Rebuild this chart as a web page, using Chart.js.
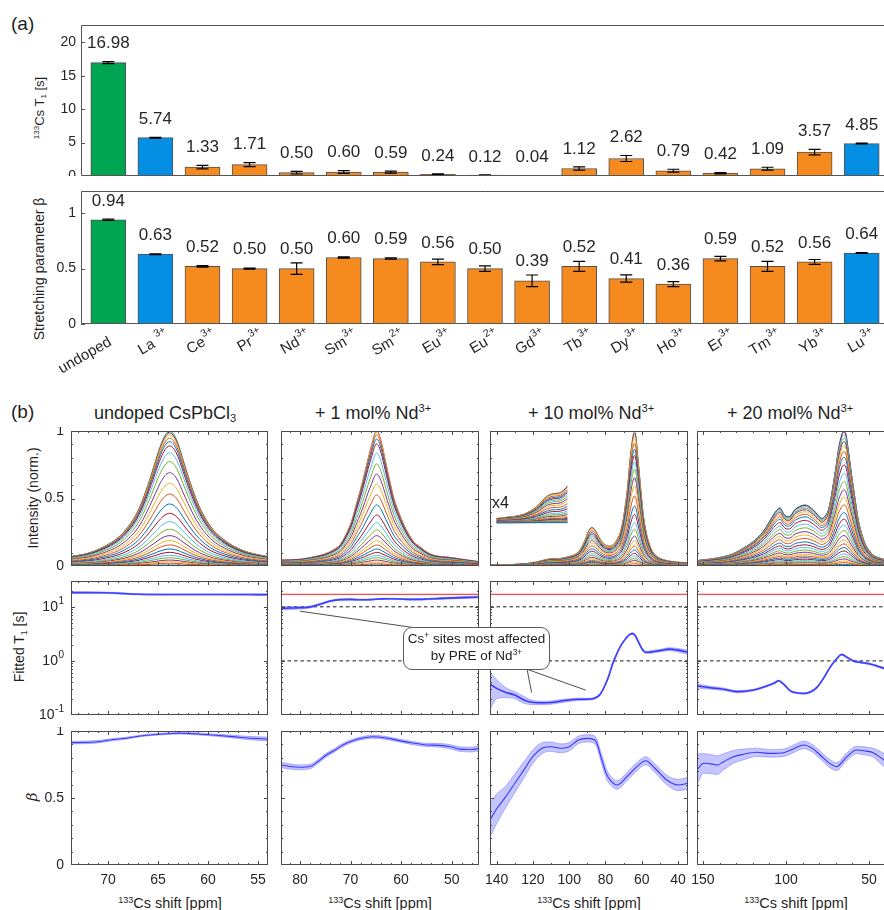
<!DOCTYPE html>
<html><head><meta charset="utf-8">
<script src="https://cdn.jsdelivr.net/npm/chart.js@4.4.1/dist/chart.umd.min.js"></script>
<style>
html,body{margin:0;padding:0;background:#fff;overflow:hidden;width:884px;height:910px;}
#stage{position:relative;width:884px;height:910px;overflow:hidden;font-family:"Liberation Sans",Arial,Helvetica,sans-serif;color:#1f1f1f;}
canvas{position:absolute;}
.t{position:absolute;white-space:nowrap;line-height:20px;}
.rot{transform:translate(-50%,-50%) rotate(-90deg);}
.cx{transform:translateX(-50%);}
sup{font-size:62%;vertical-align:0.6em;line-height:0;}
sub{font-size:62%;vertical-align:-0.3em;line-height:0;}
#note{position:absolute;left:403px;top:627px;width:147px;height:43px;box-sizing:border-box;border:1px solid #5a5a5a;border-radius:9px;background:#fff;text-align:center;font-size:13.5px;line-height:16.5px;padding-top:3px;z-index:6;}
#ov{z-index:5;pointer-events:none;}
</style></head>
<body><div id="stage">
<div class="t" style="left:11px;top:14px;font-size:19px;">(a)</div>
<div class="t" style="left:11px;top:402px;font-size:19px;">(b)</div>
<div class="t rot" style="left:40px;top:108px;font-size:13px;"><sup>133</sup>Cs T<sub>1</sub> [s]</div>
<div class="t rot" style="left:38.5px;top:269px;font-size:14px;">Stretching parameter β</div>
<div class="t rot" style="left:33px;top:498px;font-size:14px;">Intensity (norm.)</div>
<div class="t rot" style="left:18.5px;top:647px;font-size:14px;">Fitted T<sub>1</sub> [s]</div>
<div class="t rot" style="left:31.5px;top:797px;font-size:15px;font-family:'DejaVu Serif',serif;font-style:italic;">β</div>
<div class="t" style="left:94px;top:403px;font-size:18px;">undoped CsPbCl<sub>3</sub></div>
<div class="t" style="left:315px;top:403px;font-size:18px;">+ 1 mol% Nd<sup>3+</sup></div>
<div class="t" style="left:528px;top:403px;font-size:18px;">+ 10 mol% Nd<sup>3+</sup></div>
<div class="t" style="left:727px;top:403px;font-size:18px;">+ 20 mol% Nd<sup>3+</sup></div>
<div class="t cx" style="left:170px;top:893px;font-size:14.5px;"><sup>133</sup>Cs shift [ppm]</div>
<div class="t cx" style="left:380px;top:893px;font-size:14.5px;"><sup>133</sup>Cs shift [ppm]</div>
<div class="t cx" style="left:589px;top:893px;font-size:14.5px;"><sup>133</sup>Cs shift [ppm]</div>
<div class="t cx" style="left:796px;top:893px;font-size:14.5px;"><sup>133</sup>Cs shift [ppm]</div>
<div class="t" style="left:492px;top:493px;font-size:16px;z-index:4;">x4</div>
<div id="note">Cs<sup>+</sup> sites most affected<br>by PRE of Nd<sup>3+</sup></div>
</div>
<script>
// ---------------- Panel (a) data ----------------
const categoryNames = ['undoped','La ','Ce','Pr','Nd','Sm','Sm','Eu','Eu','Gd','Tb','Dy','Ho','Er','Tm','Yb','Lu'];
const categoryCharge = ['','3+','3+','3+','3+','3+','2+','3+','2+','3+','3+','3+','3+','3+','3+','3+','3+'];
const barKind = ['undoped','diamag','para','para','para','para','para','para','para','para','para','para','para','para','para','para','diamag'];
const t1Values = [16.98,5.74,1.33,1.71,0.50,0.60,0.59,0.24,0.12,0.04,1.12,2.62,0.79,0.42,1.09,3.57,4.85];
const t1Errors = [0.15,0.06,0.25,0.30,0.20,0.20,0.15,0.08,0.05,0.03,0.25,0.45,0.22,0.10,0.22,0.40,0.06];
const betaValues = [0.94,0.63,0.52,0.50,0.50,0.60,0.59,0.56,0.50,0.39,0.52,0.41,0.36,0.59,0.52,0.56,0.64];
const betaErrors = [0.006,0.004,0.006,0.005,0.052,0.006,0.006,0.025,0.025,0.052,0.045,0.033,0.022,0.02,0.045,0.022,0.004];
const t1Ticks = [0,5,10,15,20];
const betaTicks = [0,0.5,1];
const betaTickLabels = ['0','0.5','1'];

// ---------------- Panel (b) data ----------------
const spec1X = [73.7,72,70.5,69,68,67,66.2,65.5,65,64.5,64.1,63.85,63.5,63,62.5,62,61.2,60.5,59.5,58.5,57.5,56.5,55.5,54];
const spec1Y = [0.07,0.095,0.14,0.21,0.29,0.41,0.56,0.72,0.84,0.94,0.99,1.0,0.985,0.91,0.79,0.67,0.5,0.385,0.27,0.2,0.15,0.115,0.092,0.07];
const spec1Levels = [0.007,0.02,0.032,0.044,0.061,0.079,0.101,0.126,0.156,0.188,0.225,0.272,0.328,0.39,0.459,0.533,0.612,0.691,0.773,0.839,0.889,0.921,0.946,0.97,0.985,0.995,1.0];

const spec2X = [83.7,80,77,75,73.4,72,70.8,69.8,68.8,68,67.2,66.5,65.8,65.3,64.9,64.4,63.8,63,62.3,61.5,60.5,59,57.5,56.3,55,53.7,50.4,47,44.6];
const spec2Y = [0.044,0.05,0.07,0.09,0.119,0.16,0.242,0.33,0.464,0.57,0.69,0.8,0.9,0.97,1.0,0.98,0.9,0.76,0.64,0.51,0.4,0.27,0.18,0.143,0.105,0.081,0.064,0.045,0.032];
const spec2Levels = [0.007,0.017,0.03,0.044,0.062,0.079,0.101,0.126,0.156,0.188,0.225,0.267,0.321,0.378,0.452,0.526,0.607,0.681,0.756,0.835,0.904,0.94,0.97,0.99,1.0];

const spec3X = [143.7,140,135,125,118,112,109,105,101,97,94.5,92,90.5,89.5,88.5,87.6,86.5,85.5,84,82.5,80,77.5,75,73.5,72,71,70,69,68,67.2,66.5,65.8,65.2,64.5,63.9,63.2,62.6,62,61.2,60.5,59.8,59,58,57,55.5,54,52,50,45,40,34.5];
const spec3Y = [0.006,0.008,0.01,0.016,0.03,0.05,0.054,0.056,0.068,0.085,0.11,0.17,0.22,0.254,0.278,0.287,0.28,0.262,0.225,0.19,0.156,0.148,0.168,0.2,0.242,0.295,0.365,0.46,0.563,0.68,0.785,0.87,0.933,0.985,1.0,0.96,0.88,0.785,0.67,0.563,0.46,0.365,0.28,0.217,0.15,0.106,0.075,0.057,0.037,0.028,0.025];
const spec3Levels = [0.005,0.017,0.03,0.042,0.057,0.074,0.094,0.119,0.148,0.185,0.222,0.272,0.321,0.383,0.444,0.519,0.593,0.654,0.716,0.77,0.82,0.864,0.91,0.958,0.985,1.0];
const insetRange = [140,101];
const insetOffset = 0.32;
const insetScale = 4;

const spec4X = [153.6,145,137.6,132,127.6,122,117.5,113.5,110.6,108.5,106.5,105,104,103,101.6,100,98.6,97,95.5,94.5,92,90,88.5,87,85,83.5,81,78.5,76.5,74.5,73,71.5,70,68.5,67,66,65.1,64,62.5,61,59.5,58,56.5,54.5,52.5,50,47.5,44,41.1,35];
const spec4Y = [0.04,0.053,0.069,0.09,0.119,0.16,0.205,0.26,0.316,0.36,0.40,0.42,0.43,0.425,0.39,0.37,0.365,0.375,0.405,0.42,0.44,0.45,0.452,0.448,0.43,0.415,0.38,0.353,0.37,0.415,0.5,0.612,0.73,0.86,0.95,0.99,1.0,0.98,0.86,0.72,0.588,0.46,0.341,0.24,0.168,0.115,0.081,0.06,0.05,0.035];
const spec4Levels = [0.012,0.025,0.037,0.052,0.069,0.089,0.111,0.136,0.163,0.193,0.225,0.262,0.304,0.346,0.395,0.452,0.509,0.563,0.625,0.686,0.748,0.805,0.847,0.889,0.921,0.946,0.97,0.99,1.0];

const t1C1X = [73.7,72,70,68.5,67,65,63,61,59,57,55,54];
const t1C1 = [18.3,18.3,18.2,17.6,17.1,16.9,16.9,16.9,16.9,16.9,16.8,16.8];
const t1C1Lo = [17.7,17.8,17.7,17.1,16.7,16.5,16.6,16.6,16.6,16.5,16.4,16.3];
const t1C1Hi = [18.9,18.8,18.7,18.1,17.5,17.3,17.2,17.2,17.2,17.3,17.2,17.3];

const t1C2X = [83.7,82,80,78,76,74,72,70,68,66,64,62,60,58,55,52,48,44.6];
const t1C2 = [9.4,9.5,9.6,9.9,11.2,12.8,13.6,13.7,13.5,13.6,14.0,14.1,13.9,13.7,13.9,14.3,14.8,15.2];
const t1C2Lo = [8.7,8.9,9.1,9.5,10.8,12.4,13.2,13.3,13.2,13.3,13.7,13.8,13.6,13.3,13.5,13.8,14.2,14.5];
const t1C2Hi = [10.1,10.1,10.1,10.3,11.6,13.2,14.0,14.1,13.8,13.9,14.3,14.4,14.2,14.1,14.3,14.8,15.4,15.9];

const t1C3X = [143.7,140,135,130,125,120,115,110,105,100,95,90,86,83,80,78,76,74,72,70,68,66.5,65,63.5,62,60,58,56,54,50,45,40,34.5];
const t1C3 = [0.37,0.31,0.26,0.235,0.19,0.17,0.168,0.17,0.18,0.19,0.195,0.196,0.205,0.24,0.37,0.55,0.9,1.3,1.8,2.3,2.8,3.1,3.2,2.9,2.3,1.7,1.45,1.45,1.48,1.55,1.65,1.58,1.45];
const t1C3Lo = [0.13,0.2,0.21,0.2,0.165,0.155,0.155,0.158,0.168,0.178,0.185,0.188,0.197,0.23,0.355,0.53,0.87,1.26,1.75,2.23,2.72,3.0,3.1,2.8,2.22,1.64,1.39,1.38,1.4,1.47,1.55,1.47,1.32];
const t1C3Hi = [0.61,0.45,0.32,0.27,0.22,0.185,0.18,0.182,0.192,0.2,0.205,0.204,0.213,0.25,0.385,0.57,0.93,1.34,1.85,2.37,2.88,3.2,3.3,3.0,2.38,1.76,1.51,1.52,1.56,1.63,1.75,1.7,1.6];

const t1C4X = [153.6,145.6,137.6,129.5,119.5,111.5,107,104.5,101,97.5,93,89.5,85,81.5,77,73.5,70,66.5,63,59.5,55,49.5,45,41,35];
const t1C4 = [0.345,0.32,0.30,0.27,0.29,0.345,0.39,0.43,0.36,0.28,0.255,0.25,0.27,0.32,0.5,0.76,1.05,1.31,1.15,1.0,0.94,0.88,0.8,0.73,0.68];
const t1C4Lo = [0.315,0.3,0.285,0.258,0.28,0.335,0.38,0.42,0.35,0.272,0.248,0.243,0.262,0.31,0.485,0.74,1.02,1.27,1.11,0.97,0.91,0.85,0.77,0.7,0.65];
const t1C4Hi = [0.375,0.34,0.315,0.282,0.3,0.355,0.4,0.44,0.37,0.288,0.262,0.257,0.278,0.33,0.515,0.78,1.08,1.35,1.19,1.03,0.97,0.91,0.83,0.76,0.71];

const b1X = [73.7,71,69.8,68,66.8,64.5,62.8,61,59.5,57.5,56,54];
const b1 = [0.913,0.92,0.933,0.948,0.963,0.978,0.983,0.978,0.97,0.958,0.948,0.94];
const b1Lo = [0.903,0.911,0.925,0.941,0.957,0.972,0.977,0.971,0.962,0.948,0.936,0.926];
const b1Hi = [0.923,0.929,0.941,0.955,0.969,0.984,0.989,0.985,0.978,0.968,0.96,0.954];

const b2X = [83.7,82,80,78,76.5,75,73,71.5,69,67,65.6,63,60.3,58,55,52.4,50,48.4,46,44.6];
const b2 = [0.746,0.735,0.729,0.735,0.77,0.815,0.86,0.896,0.935,0.952,0.957,0.948,0.928,0.912,0.896,0.893,0.88,0.865,0.862,0.87];
const b2Lo = [0.726,0.716,0.711,0.718,0.755,0.801,0.847,0.884,0.924,0.941,0.946,0.937,0.917,0.9,0.884,0.879,0.864,0.848,0.844,0.85];
const b2Hi = [0.766,0.754,0.747,0.752,0.785,0.829,0.873,0.908,0.946,0.963,0.968,0.959,0.939,0.924,0.908,0.907,0.896,0.882,0.88,0.89];

const b3X = [143.7,140,135,130,125,120,114.4,110,105,100,95,90,85.8,82,79.5,77.4,73.7,68.2,62.7,57.8,52.6,46.2,39.9,34.5];
const b3 = [0.336,0.42,0.51,0.61,0.71,0.81,0.875,0.883,0.871,0.883,0.933,0.945,0.933,0.784,0.68,0.634,0.597,0.659,0.734,0.778,0.72,0.634,0.597,0.61];
const b3Lo = [0.21,0.31,0.43,0.54,0.65,0.76,0.835,0.848,0.838,0.852,0.905,0.918,0.905,0.75,0.645,0.6,0.565,0.628,0.703,0.748,0.688,0.598,0.555,0.565];
const b3Hi = [0.46,0.53,0.59,0.68,0.77,0.86,0.915,0.918,0.904,0.914,0.961,0.972,0.961,0.818,0.715,0.668,0.629,0.69,0.765,0.808,0.752,0.67,0.639,0.655];

const b4X = [153.6,149.6,143.6,141.6,137.6,131.6,125.6,117.5,109.5,101.5,95,89.5,84,79.5,74,69.5,64,57.5,52,47.5,41,35];
const b4 = [0.709,0.759,0.751,0.745,0.771,0.808,0.826,0.841,0.833,0.838,0.87,0.896,0.87,0.821,0.76,0.734,0.8,0.858,0.85,0.838,0.784,0.75];
const b4Lo = [0.6,0.685,0.68,0.675,0.71,0.76,0.785,0.81,0.805,0.81,0.842,0.868,0.842,0.792,0.73,0.705,0.772,0.83,0.82,0.805,0.735,0.7];
const b4Hi = [0.83,0.83,0.82,0.815,0.83,0.855,0.865,0.872,0.861,0.866,0.898,0.924,0.898,0.85,0.79,0.763,0.828,0.886,0.88,0.871,0.833,0.8];

const xTicks1 = [55,60,65,70];
const xTicks2 = [50,60,70,80];
const xTicks3 = [40,60,80,100,120,140];
const xTicks4 = [50,100,150];
const logTicks = [0.1,1,10];
const logTickBase = ['10','10','10'];
const logTickExp = ['-1','0','1'];
const refT1 = t1Values[0];
const guideT1 = [10,1];
// annotation targets (data coords of the pointed Cs+ sites)
const annotTargets = [{col:1,x:80,y:8.3},{col:2,x:120.75,y:0.26},{col:2,x:90.9,y:0.288}];

// ---------------- styling / layout ----------------
const colorOrder = ['#0072BD','#D95319','#EDB120','#7E2F8E','#77AC30','#4DBEEE','#A2142F'];
const barColors = {undoped:'#00a551', diamag:'#058fe2', para:'#f58a1f'};
const FONT = "'Liberation Sans', Arial, Helvetica, sans-serif";
Chart.defaults.font.family = FONT;
Chart.defaults.color = '#262626';
const stage = document.getElementById('stage');

function mkCanvas(box, pad){
  const c = document.createElement('canvas');
  const W = box.r-box.l+pad.l+pad.r, H = box.b-box.t+pad.t+pad.b;
  c.width = W; c.height = H;
  Object.assign(c.style,{left:(box.l-pad.l)+'px',top:(box.t-pad.t)+'px',width:W+'px',height:H+'px'});
  stage.appendChild(c);
  c._ox = box.l-pad.l; c._oy = box.t-pad.t;
  return c;
}
function range(a,b,s){const r=[];for(let v=a;v<=b+1e-9;v+=s) r.push(Math.round(v*1000)/1000);return r;}

function axis(o){
  return {
    type:o.type||'linear', min:o.min, max:o.max, reverse:!!o.reverse, offset:false,
    grid:{display:false,drawTicks:false}, border:{display:false},
    ticks:{display:!!o.show, autoSkip:false, maxRotation:0, minRotation:0,
      padding:o.tpad==null?6:o.tpad, font:{size:o.fs||14}, color:'#262626',
      callback:(v,i)=>o.labels?o.labels[i]:String(v)},
    afterBuildTicks:s=>{s.ticks = o.ticks.map(v=>({value:v}));},
    afterFit:s=>{ if(o.horiz){s.height=o.size;s.paddingLeft=0;s.paddingRight=0;} else {s.width=o.size;s.paddingTop=0;s.paddingBottom=0;} }
  };
}
function baseOpts(pad, xs, ys){
  return {responsive:false, maintainAspectRatio:false, animation:false, devicePixelRatio:1, events:[],
    layout:{padding:{left:0,top:pad.t,right:pad.r,bottom:0}},
    plugins:{legend:{display:false},tooltip:{enabled:false}},
    scales:{x:xs,y:ys}};
}
function frame(xMaj,xMin,yMaj,yMin,logLabels){
  return {id:'frame', afterDatasetsDraw(chart){
    const {ctx, chartArea:a, scales:{x,y}} = chart;
    ctx.save(); ctx.strokeStyle='#4a4a4a'; ctx.lineWidth=1; ctx.setLineDash([]);
    ctx.beginPath();
    const vx=(vals,L)=>vals.forEach(v=>{const p=Math.round(x.getPixelForValue(v))+0.5; if(p<a.left+1||p>a.right-1)return; ctx.moveTo(p,a.bottom);ctx.lineTo(p,a.bottom-L);ctx.moveTo(p,a.top);ctx.lineTo(p,a.top+L);});
    const vy=(vals,L)=>vals.forEach(v=>{const p=Math.round(y.getPixelForValue(v))+0.5; if(p<a.top+1||p>a.bottom-1)return; ctx.moveTo(a.left,p);ctx.lineTo(a.left+L,p);ctx.moveTo(a.right,p);ctx.lineTo(a.right-L,p);});
    vx(xMaj,4); vx(xMin,2); vy(yMaj,4); vy(yMin,2);
    ctx.stroke();
    ctx.strokeRect(a.left+0.5,a.top+0.5,a.right-a.left-1,a.bottom-a.top-1);
    if(logLabels){
      ctx.fillStyle='#262626'; ctx.textBaseline='middle';
      yMaj.forEach((v,i)=>{
        const py=y.getPixelForValue(v), xr=a.left-7;
        ctx.font='10px '+FONT; const we=ctx.measureText(logTickExp[i]).width;
        ctx.textAlign='left'; ctx.fillText(logTickExp[i], xr-we, py-6);
        ctx.font='14px '+FONT; ctx.textAlign='right'; ctx.fillText(logTickBase[i], xr-we-0.5, py);
      });
    }
    ctx.restore();
  }};
}

// ---------------- Panel (a) ----------------
function barDeco(values, errors, labelFromErr, labelOff, yTicks, showCats){
  return {id:'barDeco', afterDatasetsDraw(chart){
    const {ctx, chartArea:a, scales:{x,y}} = chart;
    ctx.save();
    ctx.strokeStyle='#000'; ctx.lineWidth=1.2;
    ctx.fillStyle='#262626'; ctx.font="17px "+FONT;
    ctx.textAlign='center'; ctx.textBaseline='middle';
    values.forEach((v,i)=>{
      const px=x.getPixelForValue(i+1), e=errors[i];
      const y1=y.getPixelForValue(v-e), y2=y.getPixelForValue(v+e);
      ctx.beginPath();
      ctx.moveTo(px,y1);ctx.lineTo(px,y2);
      ctx.moveTo(px-6,y1);ctx.lineTo(px+6,y1);
      ctx.moveTo(px-6,y2);ctx.lineTo(px+6,y2);
      ctx.stroke();
      ctx.fillText(v.toFixed(2), px, y.getPixelForValue(labelFromErr?v+e:v)-labelOff);
    });
    ctx.strokeStyle='#555'; ctx.lineWidth=1;
    ctx.beginPath();
    ctx.moveTo(a.right,a.top+0.5); ctx.lineTo(a.left+0.5,a.top+0.5); ctx.lineTo(a.left+0.5,a.bottom-0.5); ctx.lineTo(a.right,a.bottom-0.5);
    yTicks.forEach(t=>{const p=Math.round(y.getPixelForValue(t))+0.5; ctx.moveTo(a.left,p); ctx.lineTo(a.left+4,p);});
    ctx.stroke();
    if(showCats){
      categoryNames.forEach((nm,i)=>{
        const px=x.getPixelForValue(i+1);
        ctx.save(); ctx.translate(px+2, a.bottom+17); ctx.rotate(-Math.PI/6);
        ctx.textBaseline='middle';
        ctx.font='15px '+FONT; ctx.textAlign='right'; ctx.fillText(nm,0,0);
        if(categoryCharge[i]){ ctx.font='10.5px '+FONT; ctx.textAlign='left'; ctx.fillText(categoryCharge[i],0.5,-6.5); }
        ctx.restore();
      });
    }
    ctx.restore();
  }};
}
function barChart(box,pad,values,errors,yMax,yTicks,yLabels,showX,labelFromErr,labelOff){
  const c = mkCanvas(box,pad);
  const xs = axis({horiz:true,size:pad.b,min:0.42,max:17.58,ticks:categoryNames.map((_,i)=>i+1),show:false});
  const ys = axis({horiz:false,size:pad.l,min:0,max:yMax,ticks:yTicks,labels:yLabels,show:true,tpad:5,fs:14});
  return new Chart(c,{type:'bar',
    data:{datasets:[{data:values.map((v,i)=>({x:i+1,y:v})),backgroundColor:barKind.map(k=>barColors[k]),borderColor:'#505050',borderWidth:1,barThickness:35}]},
    options:baseOpts(pad,xs,ys), plugins:[barDeco(values,errors,labelFromErr,labelOff,yTicks,showX)]});
}
barChart({l:81,t:25,r:889,b:176},{l:81,t:0,r:0,b:0},t1Values,t1Errors,22.6,t1Ticks,t1Ticks.map(String),false,true,18);
barChart({l:81,t:191,r:889,b:324},{l:81,t:0,r:0,b:70},betaValues,betaErrors,1.2,betaTicks,betaTickLabels,true,false,19);

// ---------------- Panel (b) ----------------
const colL=[71,281,490,697], colR=[268,479,688,895];
const rowT=[431,581,731], rowB=[566,715,865];
const cols=[
  {spec:[spec1X,spec1Y,spec1Levels],t1:[t1C1X,t1C1,t1C1Lo,t1C1Hi],beta:[b1X,b1,b1Lo,b1Hi],xr:[54,73.7],xt:xTicks1,minor:1,ref:false},
  {spec:[spec2X,spec2Y,spec2Levels],t1:[t1C2X,t1C2,t1C2Lo,t1C2Hi],beta:[b2X,b2,b2Lo,b2Hi],xr:[44.6,83.75],xt:xTicks2,minor:2,ref:true},
  {spec:[spec3X,spec3Y,spec3Levels],t1:[t1C3X,t1C3,t1C3Lo,t1C3Hi],beta:[b3X,b3,b3Lo,b3Hi],xr:[34.5,143.7],xt:xTicks3,minor:10,ref:true,inset:true},
  {spec:[spec4X,spec4Y,spec4Levels],t1:[t1C4X,t1C4,t1C4Lo,t1C4Hi],beta:[b4X,b4,b4Lo,b4Hi],xr:[34.4,153.6],xt:xTicks4,minor:10,ref:true}
];
const linMinor = range(0,1,0.1);
const logMinor = [0.2,0.3,0.4,0.5,0.6,0.7,0.8,0.9,2,3,4,5,6,7,8,9,20,30];

function bandSets(X,M,L,H,lw){
  return [
    {data:X.map((x,i)=>({x,y:L[i]})),borderColor:'rgba(95,95,255,0.55)',borderWidth:0.8,pointRadius:0,fill:false,cubicInterpolationMode:'monotone'},
    {data:X.map((x,i)=>({x,y:H[i]})),borderColor:'rgba(95,95,255,0.55)',borderWidth:0.8,pointRadius:0,fill:'-1',backgroundColor:'rgba(105,105,255,0.38)',cubicInterpolationMode:'monotone'},
    {data:X.map((x,i)=>({x,y:M[i]})),borderColor:'#1717ff',borderWidth:lw,pointRadius:0,fill:false,cubicInterpolationMode:'monotone'}
  ];
}
const charts=[[],[],[]];
cols.forEach((col,ci)=>{
  const padL = ci===0?71:12;
  const xMinor = range(Math.ceil(col.xr[0]/col.minor)*col.minor, col.xr[1], col.minor);
  for(let r=0;r<3;r++){
    const pad={l:padL,t:4,r:12,b:r===2?32:4};
    const box={l:colL[ci],t:rowT[r],r:colR[ci],b:rowB[r]};
    const c=mkCanvas(box,pad);
    const xs=axis({horiz:true,size:pad.b,min:col.xr[0],max:col.xr[1],reverse:true,ticks:col.xt,show:r===2,tpad:7,fs:14});
    let ys, datasets=[], yMaj, yMin, logLab=false;
    if(r===0){
      ys=axis({horiz:false,size:pad.l,min:0,max:1,ticks:betaTicks,labels:betaTickLabels,show:ci===0,tpad:7,fs:14});
      yMaj=betaTicks; yMin=linMinor;
      const [X,Y,lev]=col.spec;
      lev.forEach((lv,k)=>datasets.push({data:X.map((x,i)=>({x,y:Y[i]*lv})),borderColor:colorOrder[k%7],borderWidth:1,pointRadius:0,fill:false,cubicInterpolationMode:'monotone'}));
      if(col.inset){
        lev.forEach((lv,k)=>{
          const pts=[]; X.forEach((x,i)=>{ if(x<=insetRange[0]&&x>=insetRange[1]) pts.push({x,y:insetOffset+insetScale*Y[i]*lv}); });
          datasets.push({data:pts,borderColor:colorOrder[k%7],borderWidth:1,pointRadius:0,fill:false,cubicInterpolationMode:'monotone'});
        });
      }
    } else if(r===1){
      ys=axis({type:'logarithmic',horiz:false,size:pad.l,min:0.1,max:30,ticks:logTicks,show:false});
      yMaj=logTicks; yMin=logMinor; logLab = ci===0;
      const [X,M,L,H]=col.t1;
      datasets=bandSets(X,M,L,H,1.6);
      if(col.ref){
        datasets.push({data:[{x:col.xr[1],y:refT1},{x:col.xr[0],y:refT1}],borderColor:'#ff4747',borderWidth:1.4,pointRadius:0,fill:false});
        guideT1.forEach(g=>datasets.push({data:[{x:col.xr[1],y:g},{x:col.xr[0],y:g}],borderColor:'#1a1a1a',borderWidth:1,borderDash:[3.5,3],pointRadius:0,fill:false}));
      }
    } else {
      ys=axis({horiz:false,size:pad.l,min:0,max:1,ticks:betaTicks,labels:betaTickLabels,show:ci===0,tpad:7,fs:14});
      yMaj=betaTicks; yMin=linMinor;
      const [X,M,L,H]=col.beta;
      datasets=bandSets(X,M,L,H,1.1);
    }
    const ch=new Chart(c,{type:'line',data:{datasets},options:baseOpts(pad,xs,ys),plugins:[frame(col.xt,xMinor,yMaj,yMin,logLab)]});
    ch._ox=c._ox; ch._oy=c._oy;
    charts[r][ci]=ch;
  }
});

// ---------------- annotation leader lines ----------------
const ov=document.createElement('canvas'); ov.id='ov'; ov.width=884; ov.height=910;
Object.assign(ov.style,{left:'0px',top:'0px',width:'884px',height:'910px'});
stage.appendChild(ov);
const octx=ov.getContext('2d');
const starts=[[420,628.5],[526,664],[515,665]];
octx.strokeStyle='#3a3a3a'; octx.lineWidth=0.9;
annotTargets.forEach((t,i)=>{
  const ch=charts[1][t.col];
  const px=ch.scales.x.getPixelForValue(t.x)+ch._ox, py=ch.scales.y.getPixelForValue(t.y)+ch._oy;
  octx.beginPath(); octx.moveTo(starts[i][0],starts[i][1]); octx.lineTo(px,py); octx.stroke();
});
</script>
</body></html>
